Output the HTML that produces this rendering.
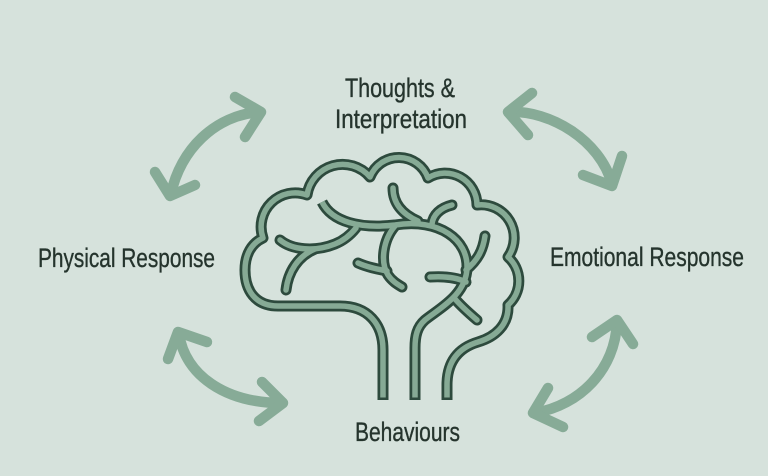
<!DOCTYPE html>
<html>
<head>
<meta charset="utf-8">
<style>
  html,body{margin:0;padding:0;background:#d6e2dc;}
  svg{display:block;}
  text{font-family:"Liberation Sans", "DejaVu Sans", sans-serif;font-size:27px;fill:#25342d;stroke:#25342d;stroke-width:0.35px;}
</style>
</head>
<body>
<svg width="768" height="476" viewBox="0 0 768 476" xmlns="http://www.w3.org/2000/svg">
  <rect x="0" y="0" width="768" height="476" fill="#d6e2dc"/>

  <!-- Arrows -->
  <g fill="none" stroke="#87ab97" stroke-width="10.5" stroke-linecap="round" stroke-linejoin="round">
    <!-- top-left -->
    <path d="M260,112 C215,115 180,150 171,194"/>
    <path d="M235,97 L261,112 L245,137"/>
    <path d="M155,172 L170,196 L195,185"/>
    <!-- top-right -->
    <path d="M509,112 C550,110 600,140 612,184"/>
    <path d="M532,93 L508,112 L528,135"/>
    <path d="M583,175 L612,186 L622,156"/>
    <!-- bottom-left -->
    <path d="M179,334 C185,375 225,403 282,403"/>
    <path d="M168,359 L178,332 L207,342"/>
    <path d="M262,382 L283,403 L259,421"/>
    <!-- bottom-right -->
    <path d="M617,322 C615,370 580,405 535,413"/>
    <path d="M592,337 L617,320 L633,344"/>
    <path d="M548,388 L533,413 L563,427"/>
  </g>

  <!-- Brain -->
  <defs>
    <g id="brainStems">
      <path d="M383,400 L383,350 C383,324 368,306 340,306 L278,306 C255,306 245,290 245,270 C245,254 252,243 263,238 A34,34 0 0 1 307,195 A36,36 0 0 1 370,177 A31,31 0 0 1 428,178 A32,32 0 0 1 477,205 A33,33 0 0 1 508,257 A32,32 0 0 1 508,305 C509,325 495,337 478,342 C458,348 447,362 447,385 L447,400"/>
      <path d="M322,202 C332,222 360,229 395,225 C440,218 468,240 467,268 C466,295 440,308 425,320 C417,327 415,336 415,348 L415,400"/>
    </g>
    <g id="brainBranches">
      <path d="M393,188 C393,203 402,214 418,221"/>
      <path d="M452,205 C440,208 433,215 432,224"/>
      <path d="M485,236 C483,250 478,260 466,270"/>
      <path d="M430,277 C445,276 458,278 466,282"/>
      <path d="M455,299 C462,307 470,314 477,320"/>
      <path d="M395,226 C383,240 380,262 388,275 C392,281 397,284 402,287"/>
      <path d="M358,263 C367,267 377,269 387,271"/>
      <path d="M280,240 C292,250 315,252 335,244 C345,240 352,233 356,228"/>
      <path d="M286,290 C288,272 298,256 315,249"/>
    </g>
  </defs>
  <g fill="none" stroke="#2d4a3d" stroke-width="11" stroke-linejoin="round">
    <use href="#brainStems" stroke-linecap="butt"/>
    <use href="#brainBranches" stroke-linecap="round"/>
  </g>
  <g fill="none" stroke="#86aa95" stroke-width="5.5" stroke-linejoin="round">
    <use href="#brainStems" stroke-linecap="butt"/>
    <use href="#brainBranches" stroke-linecap="round"/>
  </g>
  <g fill="#2d4a3d">
    <rect x="377.5" y="397.5" width="11" height="2.5"/>
    <rect x="409.5" y="397.5" width="11" height="2.5"/>
    <rect x="441.5" y="397.5" width="11" height="2.5"/>
  </g>

  <!-- Labels -->
  <text x="345" y="97" textLength="110" lengthAdjust="spacingAndGlyphs">Thoughts &amp;</text>
  <text x="335" y="128" textLength="132" lengthAdjust="spacingAndGlyphs">Interpretation</text>
  <text x="38" y="267" textLength="177" lengthAdjust="spacingAndGlyphs">Physical Response</text>
  <text x="550" y="266" textLength="194" lengthAdjust="spacingAndGlyphs">Emotional Response</text>
  <text x="355" y="441" textLength="105" lengthAdjust="spacingAndGlyphs">Behaviours</text>
</svg>
</body>
</html>
